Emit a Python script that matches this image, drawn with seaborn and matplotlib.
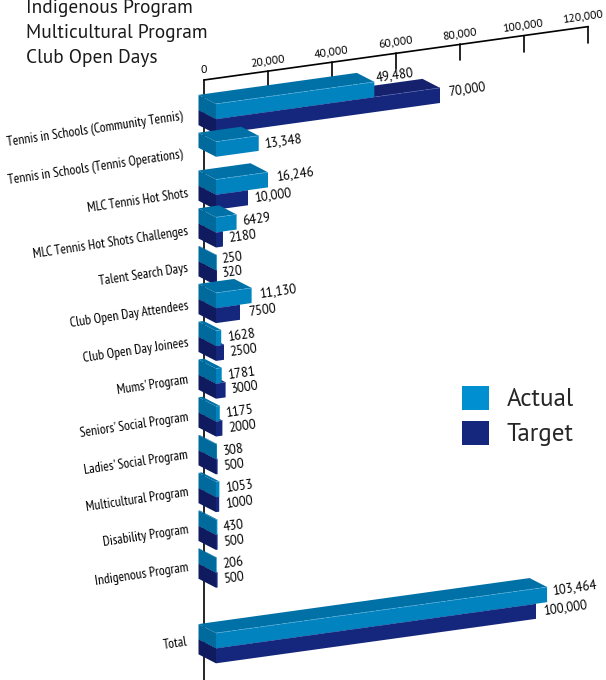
import logging
import matplotlib
matplotlib.use("Agg")
import matplotlib.pyplot as plt
from matplotlib.patches import Polygon
from matplotlib.transforms import Affine2D, IdentityTransform
import pandas as pd
import seaborn as sns

logging.getLogger("matplotlib.font_manager").setLevel(logging.ERROR)

categories = ["Tennis in Schools (Community Tennis)", "Tennis in Schools (Tennis Operations)",
              "MLC Tennis Hot Shots", "MLC Tennis Hot Shots Challenges", "Talent Search Days",
              "Club Open Day Attendees", "Club Open Day Joinees", "Mums' Program",
              "Seniors' Social Program", "Ladies' Social Program", "Multicultural Program",
              "Disability Program", "Indigenous Program", " ", "Total"]
actual = [49480, 13348, 16246, 6429, 250, 11130, 1628, 1781, 1175, 308, 1053, 430, 206, None, 103464]
target = [70000, None, 10000, 2180, 320, 7500, 2500, 3000, 2000, 500, 1000, 500, 500, None, 100000]
axis_ticks = [0, 20000, 40000, 60000, 80000, 100000, 120000]
notes = ["Indigenous Program", "Multicultural Program", "Club Open Days"]

# picture geometry, pixels
W, H = 606, 680
X_ZERO = 216      # front of the bars at value 0
PX_PER_VALUE = 0.0032
ROW_STEP = 37.8
ROW0_Y = 119
SLOPE = 0.139
DEPTH = (-17.5, 9)
AXIS_DX = -12

BODY_FONT = ["PT Sans", "Open Sans", "DejaVu Sans"]
NARROW_FONT = ["PT Sans Narrow", "Open Sans"]

COLORS = {"Actual": "#0083BF", "Target": "#15277C"}
TOPS = {"Actual": "#0071A6", "Target": "#15216C"}
SIDES = {"Actual": "#006A9C", "Target": "#0F1A5F"}
EDGES = {"Actual": "#5FB0DC", "Target": "#5563AE"}

sns.set_theme(style="white")
plt.rcParams["font.family"] = BODY_FONT

rows = []
for cat, a, t in zip(categories, actual, target):
    if a is not None:
        rows.append({"category": cat, "series": "Actual", "value": a})
    if t is not None:
        rows.append({"category": cat, "series": "Target", "value": t})
df = pd.DataFrame(rows)

fig = plt.figure(figsize=(W / 100, H / 100), dpi=100)
ax = fig.add_axes([0, 0, 1, 1])
sns.barplot(data=df, x="value", y="category", hue="series", order=categories,
            hue_order=["Actual", "Target"], palette=COLORS, orient="h",
            width=0.8, errorbar=None, saturation=1, linewidth=0, ax=ax)
ax.set_xlim(-X_ZERO / PX_PER_VALUE, (W - X_ZERO) / PX_PER_VALUE)
ax.set_ylim((H - ROW0_Y) / ROW_STEP, -ROW0_Y / ROW_STEP)
ax.set_axis_off()

# shear everything so the bars climb to the right
shear = Affine2D.from_values(1, SLOPE, 0, 1, 0, -SLOPE * X_ZERO)
bar_trans = ax.transData + shear
axis_trans = bar_trans + Affine2D().translate(AXIS_DX, 0)
pixels = IdentityTransform()

# value axis along the top and the upright line at zero
axis_y = (80 - ROW0_Y) / ROW_STEP
tick_len = 16 / ROW_STEP
ax.plot([axis_ticks[0], axis_ticks[-1]], [axis_y, axis_y], color="black", lw=1.2,
        transform=axis_trans, zorder=1, solid_capstyle="projecting")
ax.plot([0, 0], [axis_y, (H - ROW0_Y) / ROW_STEP], color="black", lw=1.2,
        transform=axis_trans, zorder=1)
for tick in axis_ticks:
    if tick > 0:
        ax.plot([tick, tick], [axis_y, axis_y + tick_len], color="black", lw=1.2,
                transform=axis_trans, zorder=1)
    # last label would run off the right edge
    ax.annotate(f"{tick:,}", xy=(tick, axis_y), xycoords=axis_trans,
                xytext=(-4 if tick == axis_ticks[-1] else 0, 5),
                textcoords="offset pixels", ha="center", va="bottom",
                rotation=0 if tick == 0 else 8, rotation_mode="anchor",
                fontsize=8.5, color="black")


def back(p):
    return (p[0] + DEPTH[0], p[1] + DEPTH[1])


# front faces come from seaborn, top and side faces are built on their corners
for container, name in zip(ax.containers, ["Actual", "Target"]):
    z = 3 if name == "Actual" else 2
    for bar in container:
        bar.set_transform(bar_trans)
        bar.set_clip_on(False)
        bar.set_zorder(z + 0.2)
        x0, x1 = bar.get_x(), bar.get_x() + bar.get_width()
        y0, y1 = bar.get_y(), bar.get_y() + bar.get_height()
        top, bot = min(y0, y1), max(y0, y1)
        tl, tr, bl = bar_trans.transform([(x0, top), (x1, top), (x0, bot)])
        ax.add_patch(Polygon([tl, tr, back(tr), back(tl)], transform=pixels,
                             fc=TOPS[name], ec="none", zorder=z, clip_on=False))
        ax.add_patch(Polygon([tl, bl, back(bl), back(tl)], transform=pixels,
                             fc=SIDES[name], ec="none", zorder=z + 0.1, clip_on=False))
        ax.plot([tl[0], tr[0]], [tl[1], tr[1]], transform=pixels,
                color=EDGES[name], lw=0.5, zorder=z + 0.3, ls=(0, (6, 2)))

# value labels: pixel nudges from the default spot at the end of each bar
nudges = {("Actual", 0): (-4, -12), ("Target", 0): (2, -4), ("Actual", 2): (2, -3),
          ("Actual", 5): (2, -2), ("Target", 5): (3, 0), ("Actual", 14): (-1, -4),
          ("Target", 14): (1, -1), ("Actual", 4): (-1, -3), ("Target", 4): (-1, -4)}
for name, values, offset in [("Actual", actual, -0.2), ("Target", target, 0.2)]:
    for i, v in enumerate(values):
        if v is None:
            continue
        text = f"{v:,}" if v >= 10000 else str(v)
        dx, dy = nudges.get((name, i), (0, 0))
        ax.annotate(text, xy=(v, i + offset), xycoords=bar_trans, xytext=(6 + dx, -dy),
                    textcoords="offset pixels", ha="left", va="center", rotation=8,
                    rotation_mode="anchor", fontsize=9.2, color="black", zorder=5)

# category labels, the two long ones stop a little earlier
for i, cat in enumerate(categories):
    if cat.strip():
        label_px = 183 if i < 2 else 188
        ax.text((label_px - X_ZERO) / PX_PER_VALUE, i - 0.012 * i - (0.06 if i < 2 else 0), cat,
                ha="right", va="center", rotation=8.5, rotation_mode="anchor",
                fontsize=9.8, family=NARROW_FONT, color="black")

for note, y in zip(notes, [8, 33, 58]):
    fig.text(26 / W, 1 - y / H, note, ha="left", va="center", fontsize=13.9, color="#1a1a1a")

handles, labels = ax.get_legend_handles_labels()
leg = ax.legend(handles, labels, loc="upper left", bbox_to_anchor=(462 / W, 1 - 386 / H),
                frameon=False, fontsize=18, handlelength=1.08, handleheight=1.08,
                handletextpad=0.7, labelspacing=0.38, borderpad=0, borderaxespad=0)
leg.legend_handles[0].set_facecolor("#0090D2")

fig.savefig("out.png", dpi=100)
